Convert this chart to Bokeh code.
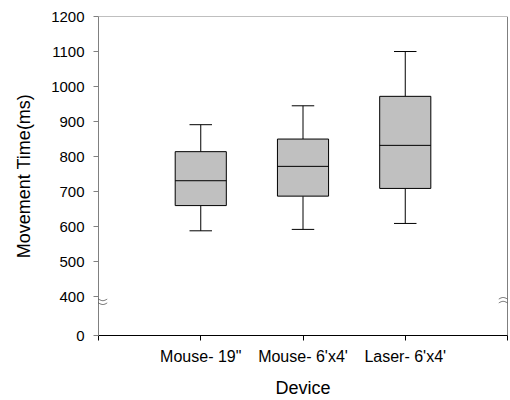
import numpy as np
from bokeh.plotting import figure
from bokeh.models import Range1d, FixedTicker, PolyAnnotation, Span
from bokeh.embed import file_html
from bokeh.resources import INLINE

# ---- data ----
devices = ['Mouse- 19"', "Mouse- 6'x4'", "Laser- 6'x4'"]
whisker_low = [588, 592, 609]
q1 = [660, 687, 709]
median = [731, 772, 832]
q3 = [814, 850, 972]
whisker_high = [891, 945, 1100]
y_tick_values = [0, 400, 500, 600, 700, 800, 900, 1000, 1100, 1200]

# broken axis: 0..400 compressed
BREAK_AT = 400
BREAK_BASE = 289  # plotted position of value 0


def ypos(v):
    return v if v >= BREAK_AT else BREAK_BASE + v * (BREAK_AT - BREAK_BASE) / BREAK_AT


FONT = "Liberation Sans"
GREY = "#808080"

xs = np.arange(1, len(devices) + 1)
box_w = 0.5
cap_w = 0.22

p = figure(width=510, height=400,
           x_range=Range1d(0, len(devices) + 1),
           y_range=Range1d(ypos(0), 1200),
           output_backend="svg", toolbar_location=None,
           min_border_left=98, min_border_right=3,
           min_border_top=16, min_border_bottom=62)
p.outline_line_color = None
p.xgrid.visible = False
p.ygrid.visible = False
p.background_fill_color = "white"
p.border_fill_color = "white"

# whiskers
p.segment(x0=xs, x1=xs, y0=q3, y1=whisker_high, line_color="black", line_width=1)
p.segment(x0=xs, x1=xs, y0=q1, y1=whisker_low, line_color="black", line_width=1)
p.segment(x0=xs - cap_w / 2, x1=xs + cap_w / 2, y0=whisker_high, y1=whisker_high,
          line_color="black", line_width=1)
p.segment(x0=xs - cap_w / 2, x1=xs + cap_w / 2, y0=whisker_low, y1=whisker_low,
          line_color="black", line_width=1)
# boxes
p.vbar(x=xs, width=box_w, bottom=q1, top=q3, fill_color="#c0c0c0",
       line_color="black", line_width=1)
# medians
p.segment(x0=xs - box_w / 2, x1=xs + box_w / 2, y0=median, y1=median,
          line_color="black", line_width=1)

# frame borders: top grey, right black
p.add_layout(Span(location=1200, dimension="width", line_color=GREY, line_width=1))
p.add_layout(Span(location=len(devices) + 1, dimension="height", line_color="black", line_width=1))

# axis break marks (two tildes)
def tilde(xc, yc, hw, amp, t0=-1.0, t1=1.0):
    t = np.linspace(t0, t1, 25)
    x = xc + t * hw
    y = yc - amp * np.sin(np.pi * t)
    return list(x) + list(x[::-1]), list(y) + list(y[::-1])

for yc in (BREAK_AT - 7, BREAK_AT - 18):
    bx, by = tilde(0, yc, 0.085, 4.5)
    p.add_layout(PolyAnnotation(xs=bx, ys=by, line_color="black", line_width=1,
                                fill_color=None, fill_alpha=0))
    bx, by = tilde(len(devices) + 1, yc, 0.085, 4.5, -1.0, 0.0)
    p.add_layout(PolyAnnotation(xs=bx, ys=by, line_color="black", line_width=1,
                                fill_color=None, fill_alpha=0))

# x axis
xticks = list(range(0, len(devices) + 2))
p.xaxis.ticker = FixedTicker(ticks=xticks)
overrides = {0: " ", len(devices) + 1: " "}
for i, d in enumerate(devices):
    overrides[i + 1] = d
p.xaxis.major_label_overrides = overrides
p.xaxis.axis_label = "Device"
p.xaxis.axis_line_color = "black"
p.xaxis.major_tick_line_color = "black"
p.xaxis.major_tick_out = 5
p.xaxis.major_tick_in = 0
p.xaxis.minor_tick_line_color = None
p.xaxis.major_label_standoff = 7
p.xaxis.axis_label_standoff = 10
p.xaxis.major_label_text_font_size = "16px"

# y axis
yt = [ypos(v) for v in y_tick_values]
p.yaxis.ticker = FixedTicker(ticks=yt)
p.yaxis.major_label_overrides = {ypos(v): str(v) for v in y_tick_values}
p.yaxis.axis_label = "Movement Time(ms)"
p.yaxis.axis_line_color = GREY
p.yaxis.major_tick_line_color = GREY
p.yaxis.major_tick_out = 5
p.yaxis.major_tick_in = 0
p.yaxis.minor_tick_line_color = None
p.yaxis.major_label_standoff = 9
p.yaxis.axis_label_standoff = 14
p.yaxis.major_label_text_font_size = "15px"

for ax in (p.xaxis, p.yaxis):
    ax.major_label_text_font = FONT
    ax.major_label_text_color = "black"
    ax.axis_label_text_font = FONT
    ax.axis_label_text_font_size = "18px"
    ax.axis_label_text_font_style = "normal"
    ax.axis_label_text_color = "black"

open("out.html", "w").write(file_html(p, INLINE))
